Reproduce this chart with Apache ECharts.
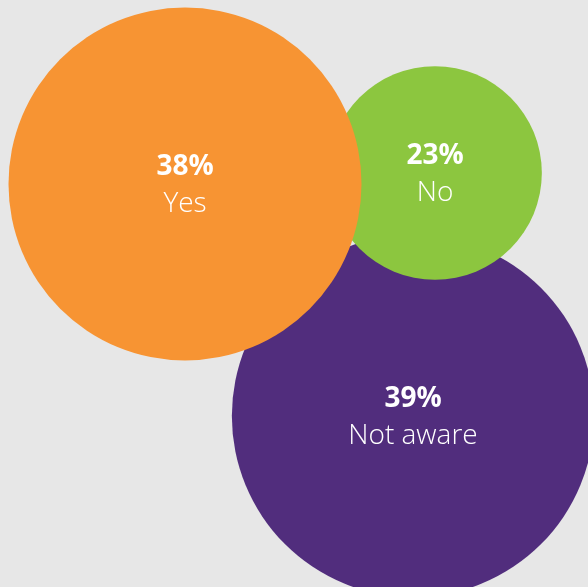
<!DOCTYPE html>
<html>
<head>
<meta charset="utf-8">
<style>
  html, body { margin: 0; padding: 0; background: #e7e7e7; }
  #chart { width: 588px; height: 587px; }
</style>
<script src="https://cdn.jsdelivr.net/npm/echarts@6/dist/echarts.min.js"></script>
</head>
<body>
<div id="chart"></div>
<script>
// Data (drawn back to front)
const categories = ['Not aware', 'No', 'Yes'];
const percents = [39, 23, 38];
// bubble centres on hidden layout axes
const bubbleX = [413, 435, 185];
const bubbleY = [416, 173, 184];
const colors = ['#512d7d', '#8cc63f', '#f79433'];

const PX_PER_PCT = 9.29; // bubble diameter per percentage point

const chart = echarts.init(document.getElementById('chart'), null, { renderer: 'canvas' });

const data = categories.map((c, i) => ({
  name: c,
  value: [bubbleX[i], bubbleY[i], percents[i]],
  itemStyle: { color: colors[i] }
}));

chart.setOption({
  backgroundColor: '#e7e7e7',
  animation: false,
  grid: { left: 0, right: 0, top: 0, bottom: 0 },
  xAxis: { type: 'value', min: 0, max: 588, show: false },
  yAxis: { type: 'value', min: 0, max: 587, inverse: true, show: false },
  series: [{
    type: 'scatter',
    data: data,
    symbol: 'circle',
    symbolSize: v => v[2] * PX_PER_PCT,
    itemStyle: { opacity: 1 },
    emphasis: { disabled: true },
    label: {
      show: true,
      position: 'inside',
      offset: [0, 2],
      formatter: p => '{a|' + p.value[2] + '%}\n{b|' + p.name + '}',
      rich: {
        a: { fontFamily: 'Open Sans', fontWeight: 'bold', fontSize: 28, color: '#ffffff', lineHeight: 37, align: 'center' },
        b: { fontFamily: 'Open Sans', fontWeight: 300, fontSize: 28, color: '#ffffff', lineHeight: 37, align: 'center' }
      }
    }
  }]
});
</script>
</body>
</html>
